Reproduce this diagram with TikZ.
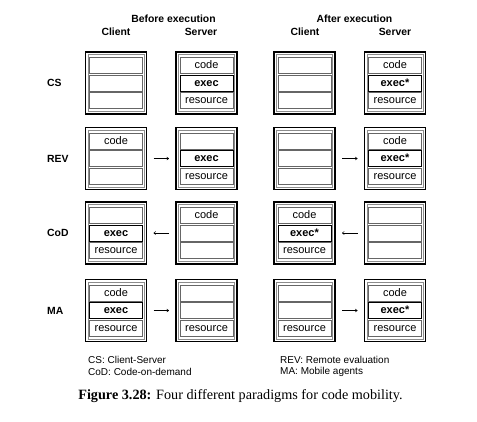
\documentclass[tikz,border=0pt]{standalone}
\usepackage{fontspec}
\setmainfont{Liberation Serif}
\setsansfont{Liberation Sans}
\usetikzlibrary{arrows.meta}
\newcommand{\machine}[7]{%
  \node[outerbox] (#1) at (#2,#3) {};
  \draw[hairline] ([shift={(2.3,2.3)}]#1.north west) rectangle ([shift={(-2.3,-2.3)}]#1.south east);
  \node[innerbox] (#1-1) at (#2,#3-17.5) {#4};
  \node[#5] (#1-2) at (#2,#3) {#6};
  \node[innerbox] (#1-3) at (#2,#3+17.5) {#7};
}
\begin{document}
\begin{tikzpicture}[x=1pt,y=-1pt,
  outerbox/.style={draw=black, line width=1.7pt, minimum width=61pt, minimum height=62pt, inner sep=0pt, outer sep=0pt},
  hairline/.style={draw=black!45, line width=0.5pt},
  innerbox/.style={draw=black!60, line width=0.7pt, minimum width=53pt, minimum height=16pt, inner sep=0pt, text height=8pt, text depth=2pt, font=\sffamily\fontsize{11}{12}\selectfont},
  execbox/.style={innerbox, draw=black, line width=0.8pt, font=\sffamily\bfseries\fontsize{11}{12}\selectfont},
  head/.style={font=\sffamily\bfseries\fontsize{10.4}{12}\selectfont, inner sep=0pt},
  rowlab/.style={font=\sffamily\bfseries\fontsize{10.4}{12}\selectfont, inner sep=0pt, anchor=west},
  legend/.style={font=\sffamily\fontsize{10}{12}\selectfont, inner sep=0pt, anchor=west},
  flow/.style={line width=0.5pt, -{To[length=2.5pt,width=3.5pt]}, shorten <=7pt, shorten >=7pt}
]
\useasboundingbox (0,0) rectangle (477,421);

% headers
\node[head] (hb) at (173.5,19) {Before execution};
\node[head] (hbc) at (116,32) {Client};
\node[head] (hbs) at (201,32) {Server};
\node[head] (ha) at (354.5,19) {After execution};
\node[head] (hac) at (305,32) {Client};
\node[head] (has) at (395,32) {Server};

% row labels
\node[rowlab] (lcs) at (47,83) {CS};
\node[rowlab] (lrev) at (47,158.5) {REV};
\node[rowlab] (lcod) at (47,233) {CoD};
\node[rowlab] (lma) at (47,310.5) {MA};

% CS
\machine{csbc}{116}{83}{}{innerbox}{}{}
\machine{csbs}{206.5}{83}{code}{execbox}{exec}{resource}
\machine{csac}{304.5}{83}{}{innerbox}{}{}
\machine{csas}{395}{83}{code}{execbox}{exec*}{resource}

% REV
\machine{revbc}{116}{158.5}{code}{innerbox}{}{}
\machine{revbs}{206.5}{158.5}{}{execbox}{exec}{resource}
\machine{revac}{304.5}{158.5}{}{innerbox}{}{}
\machine{revas}{395}{158.5}{code}{execbox}{exec*}{resource}
\draw[flow] (revbc) -- (revbs);
\draw[flow] (revac) -- (revas);

% CoD
\machine{codbc}{116}{233}{}{execbox}{exec}{resource}
\machine{codbs}{206.5}{233}{code}{innerbox}{}{}
\machine{codac}{304.5}{233}{code}{execbox}{exec*}{resource}
\machine{codas}{395}{233}{}{innerbox}{}{}
\draw[flow] (codbs) -- (codbc);
\draw[flow] (codas) -- (codac);

% MA
\machine{mabc}{116}{310.5}{code}{execbox}{exec}{resource}
\machine{mabs}{206.5}{310.5}{}{innerbox}{}{resource}
\machine{maac}{304.5}{310.5}{}{innerbox}{}{resource}
\machine{maas}{395}{310.5}{code}{execbox}{exec*}{resource}
\draw[flow] (mabc) -- (mabs);
\draw[flow] (maac) -- (maas);

% legend
\node[legend] (lg1) at (88,359.5) {CS: Client-Server};
\node[legend] (lg2) at (88,372) {CoD: Code-on-demand};
\node[legend] (lg3) at (280,359.5) {REV: Remote evaluation};
\node[legend] (lg4) at (280,372) {MA: Mobile agents};

% caption
\node[font=\rmfamily\fontsize{14.2}{16}\selectfont, inner sep=0pt] (cap) at (240.5,396) {\textbf{Figure 3.28:} Four different paradigms for code mobility.};
\end{tikzpicture}
\end{document}
